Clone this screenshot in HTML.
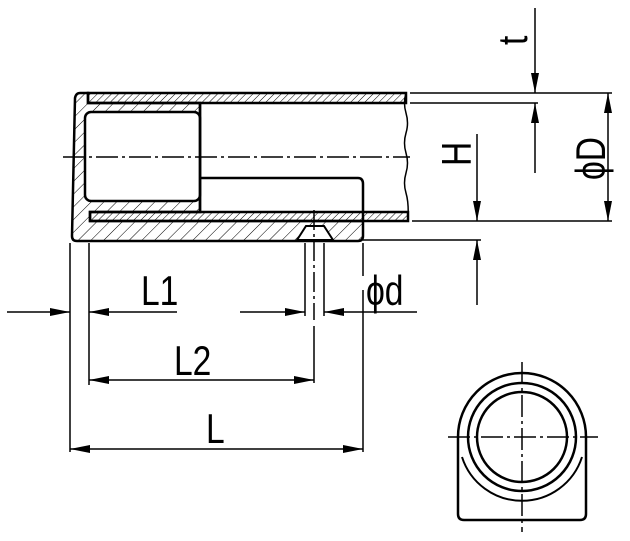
<!DOCTYPE html>
<html><head><style>body{margin:0;background:#fff}svg{display:block}text{font-family:"Liberation Sans",sans-serif;font-size:42px;fill:#000}</style></head>
<body>
<svg width="630" height="541" viewBox="0 0 630 541" xmlns="http://www.w3.org/2000/svg">
<defs>
<pattern id="h1" width="5" height="5" patternUnits="userSpaceOnUse" patternTransform="rotate(45)"><line x1="0" y1="0" x2="0" y2="5" stroke="#000" stroke-width="1"/></pattern>
<pattern id="h2" width="9" height="9" patternUnits="userSpaceOnUse" patternTransform="rotate(45)"><line x1="0" y1="0" x2="0" y2="9" stroke="#000" stroke-width="1"/></pattern>
<marker id="a" viewBox="0 0 20 8" refX="20" refY="4" markerWidth="20" markerHeight="8" markerUnits="userSpaceOnUse" orient="auto"><path d="M0,0 L20,4 L0,8z"/></marker>
</defs>
<g stroke="#000" fill="none" stroke-width="2.5">
<rect x="88" y="93" width="318" height="10" fill="url(#h1)"/>
<rect x="90" y="212" width="318" height="9" fill="url(#h1)"/>
<path d="M80,93 L88,93 L88,103 L200,103 L200,212 L90,212 L90,221 L363,221 L363,236 Q363,241 358,241 L77,241 Q72,241 72,236 L75,98 Q76,93 80,93Z" fill="url(#h2)"/>
<path d="M200,178 L358,178 Q363,178 363,184 L363,221"/>
<rect x="85" y="112" width="115" height="89" rx="6" fill="#fff"/>
<path d="M200,103 V212" />
<path d="M297,240 L306,226 L324,226 L333,240Z" fill="#fff" stroke-width="2"/>
<path d="M406,93 q-3,10 0,20 q3,10 0,20 q-3,10 0,20 q3,10 0,20 q-3,10 0,20 q3,10 2,28" stroke-width="1.5"/>
</g>
<g stroke="#000" stroke-width="1.5" fill="none">
<path d="M63,157 H410" stroke-dasharray="22,4,3,4"/>
<path d="M314,210 V320" stroke-dasharray="20,4,3,4"/>
<path d="M410,93 H612 M410,103 H538 M412,221 H612 M363,240 H481"/>
<path d="M70,243 V452 M89,243 V385 M305,243 V316 M324,243 V316 M314,326 V383 M363,243 V276 M363,290 V452"/>
<path d="M535,8 V93" marker-end="url(#a)"/><path d="M535,173 V103" marker-end="url(#a)"/>
<path d="M608,157 V93" marker-end="url(#a)"/><path d="M608,157 V221" marker-end="url(#a)"/>
<path d="M477,134 V221" marker-end="url(#a)"/><path d="M477,305 V240" marker-end="url(#a)"/>
<path d="M7,312 H70" marker-end="url(#a)"/><path d="M177,312 H89" marker-end="url(#a)"/>
<path d="M240,312 H305" marker-end="url(#a)"/><path d="M417,312 H324" marker-end="url(#a)"/>
<path d="M200,380 H89" marker-end="url(#a)"/><path d="M200,380 H314" marker-end="url(#a)"/>
<path d="M220,449 H70" marker-end="url(#a)"/><path d="M220,449 H363" marker-end="url(#a)"/>
<path d="M448,437 H598 M522,362 V532" stroke-dasharray="22,4,3,4"/>
</g>
<g stroke="#000" stroke-width="2.5" fill="none">
<path d="M458,437 A64,64 0 0 1 586,437 V514 Q586,520 580,520 H464 Q458,520 458,514Z"/>
<circle cx="522" cy="437" r="54"/>
<circle cx="522" cy="437" r="45"/>
<path d="M462,457 A63,63 0 0 0 582,457" stroke-width="2"/>
</g>
<text transform="translate(141,305) scale(0.8,1)">L1</text>
<text transform="translate(174,375) scale(0.8,1)">L2</text>
<text transform="translate(206,443) scale(0.8,1)">L</text>
<text transform="translate(366,305) scale(0.8,1)">ϕd</text>
<text transform="translate(471,166) rotate(-90) scale(0.8,1)">H</text>
<text transform="translate(527,45) rotate(-90) scale(0.8,1)">t</text>
<text transform="translate(605,180) rotate(-90) scale(0.8,1)">ϕD</text>
</svg>
</body></html>
